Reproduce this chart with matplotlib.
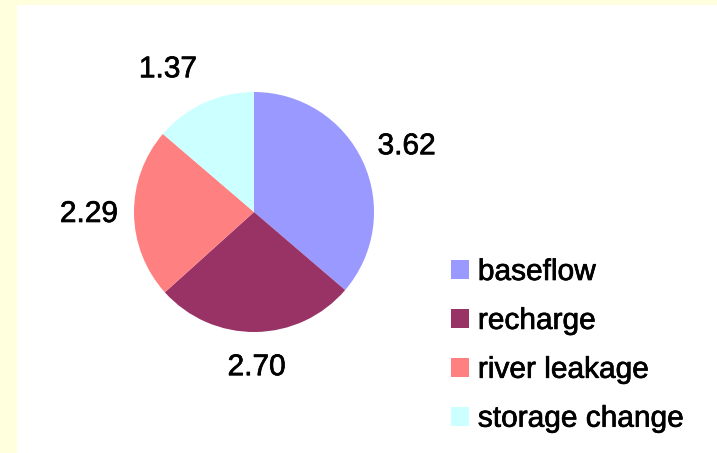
import numpy as np
import matplotlib
matplotlib.use("Agg")
import matplotlib.pyplot as plt
import matplotlib.patheffects as pe
from matplotlib.patches import Rectangle, Patch

# Water balance components
categories = ["baseflow", "recharge", "river leakage", "storage change"]
values = [3.62, 2.70, 2.29, 1.37]
colors = ["#9999FF", "#993366", "#FF8080", "#CCFFFF"]

W, H = 717, 453
fig = plt.figure(figsize=(W / 100, H / 100), dpi=100)
fig.patch.set_facecolor("white")
plt.rcParams["font.family"] = ["Liberation Sans", "DejaVu Sans"]

# pale yellow page margin on the left and top
fig.patches.append(Rectangle((0, 0), 17 / W, 1, transform=fig.transFigure,
                             facecolor="#FFFFDE", edgecolor="none", zorder=0))
fig.patches.append(Rectangle((0, 1 - 5 / H), 1, 5 / H, transform=fig.transFigure,
                             facecolor="#FFFFDE", edgecolor="none", zorder=0))

# axes in pixel units so the pie is circular
ax = fig.add_axes([0, 0, 1, 1])
cx, cy, r = 254, H - 212, 120
wedges, _ = ax.pie(values, colors=colors, startangle=90, counterclock=False,
                   center=(cx, cy), radius=r, frame=True,
                   wedgeprops=dict(linewidth=0))
ax.set_xlim(0, W)
ax.set_ylim(0, H)
ax.set_aspect("equal")
ax.axis("off")

fs = 21.5
stroke = [pe.withStroke(linewidth=0.5, foreground="black")]
fig.canvas.draw()
renderer = fig.canvas.get_renderer()

# value labels sit just outside the rim, the text box pushed away from the pie
D = 136
half_h = 19.2
for w, v in zip(wedges, values):
    mid = np.deg2rad((w.theta1 + w.theta2) / 2)
    c, s = np.cos(mid), np.sin(mid)
    t = ax.text(0, 0, f"{v:.2f}", fontsize=fs, ha="center", va="center",
                color="black", path_effects=stroke)
    tw = t.get_window_extent(renderer).width
    sx = float(np.clip(c / 0.4, -1, 1))
    sy = float(np.clip(s / 0.9, -1, 1))
    t.set_position((cx + D * c + tw / 2 * sx, cy + D * s + half_h * sy))

handles = [Patch(facecolor=c, edgecolor="none") for c in colors]
leg = fig.legend(handles, categories, loc="upper left",
                 bbox_to_anchor=(451 / W, 1 - 258 / H), frameon=False,
                 fontsize=fs, handlelength=0.6, handleheight=0.6,
                 handletextpad=0.3, labelspacing=0.7, borderpad=0,
                 borderaxespad=0)
for txt in leg.get_texts():
    txt.set_path_effects(stroke)

fig.savefig("out.png", dpi=100, facecolor=fig.get_facecolor())
